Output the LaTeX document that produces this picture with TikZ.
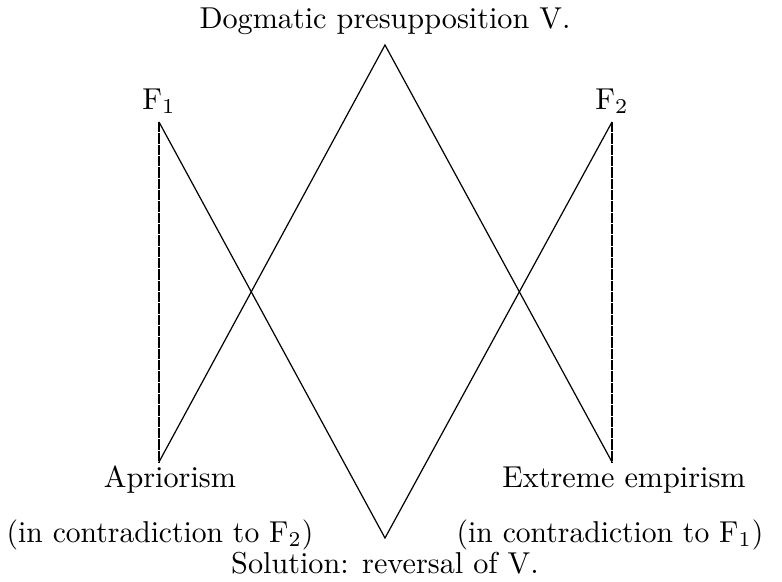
\documentclass[tikz,border=0pt]{standalone}
\begin{document}
\begin{tikzpicture}[x=0.331pt,y=-0.331pt,
  lbl/.style={inner sep=0pt,anchor=base},
  ln/.style={line width=0.4pt},
  dl/.style={line width=0.4pt,dash pattern=on 3.4pt off 0.35pt}]
\useasboundingbox (0,0) rectangle (782,581);
\coordinate (F1t) at (159,122);
\coordinate (F1b) at (159,462);
\coordinate (F2t) at (612,122);
\coordinate (F2b) at (612,462);
\coordinate (Vt) at (385,45);
\coordinate (Vb) at (385,538);
\node[lbl] (top) at (385,28) {Dogmatic presupposition V.};
\node[lbl] (f1) at (159,109) {F$_1$};
\node[lbl] (f2) at (612,109) {F$_2$};
\node[lbl] (apr) at (170,487) {Apriorism};
\node[lbl] (emp) at (624,487) {Extreme empirism};
\node[lbl,xscale=0.98] (c2) at (160,542) {(in contradiction to F$_2$)};
\node[lbl,xscale=0.98] (c1) at (610,542) {(in contradiction to F$_1$)};
\node[lbl] (sol) at (385,573) {Solution: reversal of V.};
\draw[dl] (F1t) -- (F1b);
\draw[dl] (F2t) -- (F2b);
\draw[ln] (F1t) -- (Vb) -- (F2t);
\draw[ln] (F1b) -- (Vt) -- (F2b);
\end{tikzpicture}
\end{document}
